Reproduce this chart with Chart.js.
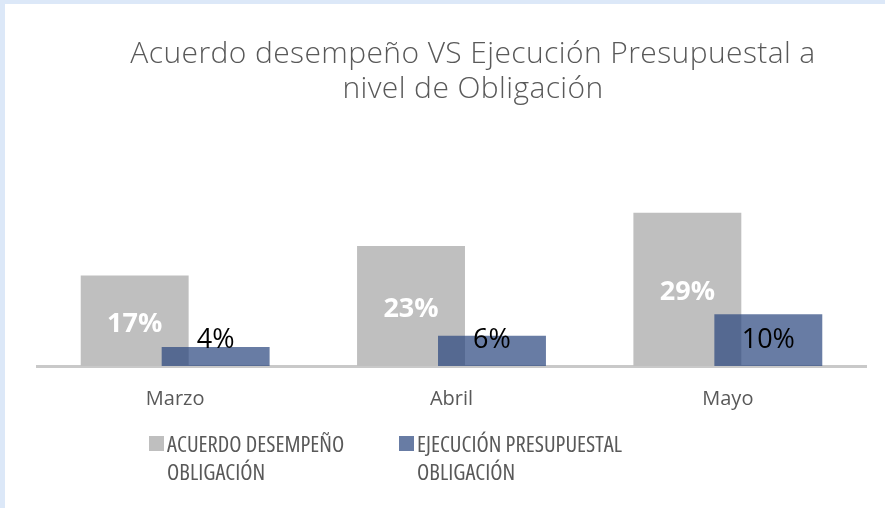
<!DOCTYPE html>
<html><head><meta charset="utf-8">
<script src="https://cdn.jsdelivr.net/npm/chart.js@4.4.0/dist/chart.umd.min.js"></script>
<style>
html,body{margin:0;padding:0;background:#dce8f8;width:885px;height:508px;overflow:hidden;}
#wrap{position:absolute;left:5px;top:4px;width:880px;height:504px;background:#ffffff;}
canvas{display:block;}
</style></head><body>
<div id="wrap"><canvas id="c" width="880" height="504"></canvas></div>
<script>
// ---- data ----
const categories = ['Marzo', 'Abril', 'Mayo'];
const acuerdoValues = [17.1, 22.7, 29.0];
const ejecucionValues = [3.6, 5.7, 9.8];
const seriesNames = ['ACUERDO DESEMPEÑO OBLIGACIÓN', 'EJECUCIÓN PRESUPUESTAL OBLIGACIÓN'];
const legendLines = [['ACUERDO DESEMPEÑO', 'OBLIGACIÓN'], ['EJECUCIÓN PRESUPUESTAL', 'OBLIGACIÓN']];
const titleLines = ['Acuerdo desempeño VS Ejecución Presupuestal a', 'nivel de Obligación'];
const yMax = 35;

const FONT = '"Open Sans", "Liberation Sans", sans-serif';
const TEXT = '#595959';

// draw datasets in their natural order so the second series overlaps the first
const drawOrder = {
  id: 'drawOrder',
  beforeDatasetsDraw(chart) {
    const ctx = chart.ctx;
    const area = chart.chartArea;
    ctx.save();
    ctx.beginPath();
    ctx.rect(area.left, area.top - 2, area.right - area.left, area.bottom - area.top + 2);
    ctx.clip();
    chart.getSortedVisibleDatasetMetas().forEach(meta => meta.controller.draw());
    ctx.restore();
    return false;
  }
};

const titlePlugin = {
  id: 'customTitle',
  afterDraw(chart) {
    const ctx = chart.ctx;
    ctx.save();
    ctx.font = '300 30px ' + FONT;
    try { ctx.letterSpacing = '0.4px'; } catch (e) {}
    ctx.fillStyle = TEXT;
    ctx.textAlign = 'center';
    ctx.textBaseline = 'alphabetic';
    ctx.fillText(titleLines[0], 468, 59);
    ctx.fillText(titleLines[1], 468, 94);
    ctx.restore();
  }
};

const valueLabels = {
  id: 'valueLabels',
  afterDraw(chart) {
    const ctx = chart.ctx;
    ctx.save();
    ctx.textAlign = 'center';
    ctx.textBaseline = 'alphabetic';
    chart.data.datasets.forEach((ds, di) => {
      const meta = chart.getDatasetMeta(di);
      meta.data.forEach((bar, i) => {
        const txt = Math.round(ds.data[i]) + '%';
        if (di === 0) {
          ctx.font = 'bold 27px ' + FONT;
          ctx.fillStyle = '#ffffff';
          ctx.fillText(txt, bar.x, (bar.y + bar.base) / 2 + 11);
        } else {
          ctx.font = '27px ' + FONT;
          ctx.fillStyle = '#000000';
          ctx.fillText(txt, bar.x, bar.base - 18);
        }
      });
    });
    ctx.restore();
  }
};

const legendPlugin = {
  id: 'customLegend',
  afterDraw(chart) {
    const ctx = chart.ctx;
    const xs = [144, 394];
    ctx.save();
    ctx.font = '22.5px ' + FONT;
    try { ctx.fontStretch = 'condensed'; } catch (e) {}
    ctx.textAlign = 'left';
    ctx.textBaseline = 'alphabetic';
    chart.data.datasets.forEach((ds, di) => {
      const x = xs[di];
      ctx.fillStyle = ds.backgroundColor;
      ctx.fillRect(x, 432, 15, 15);
      ctx.fillStyle = TEXT;
      legendLines[di].forEach((ln, li) => {
        ctx.fillText(ln, x + 18, 448 + li * 28);
      });
    });
    ctx.restore();
  }
};

new Chart(document.getElementById('c'), {
  type: 'bar',
  data: {
    labels: categories,
    datasets: [
      { label: seriesNames[0], data: acuerdoValues, backgroundColor: '#bfbfbf', borderWidth: 0 },
      { label: seriesNames[1], data: ejecucionValues, backgroundColor: 'rgba(40,68,125,0.7)', borderWidth: 0 }
    ]
  },
  options: {
    responsive: false,
    animation: false,
    devicePixelRatio: 1,
    categoryPercentage: 0.586,
    barPercentage: 1.333,
    layout: { padding: { top: 177, left: 32, right: 19, bottom: 84 } },
    plugins: { legend: { display: false }, title: { display: false }, tooltip: { enabled: false } },
    scales: {
      x: {
        grid: { display: false },
        border: { display: true, color: '#c9c9c9', width: 3 },
        ticks: { color: TEXT, font: { family: FONT, size: 20 }, padding: 13 }
      },
      y: { display: false, min: 0, max: yMax }
    }
  },
  plugins: [drawOrder, titlePlugin, valueLabels, legendPlugin]
});
</script>
</body></html>
